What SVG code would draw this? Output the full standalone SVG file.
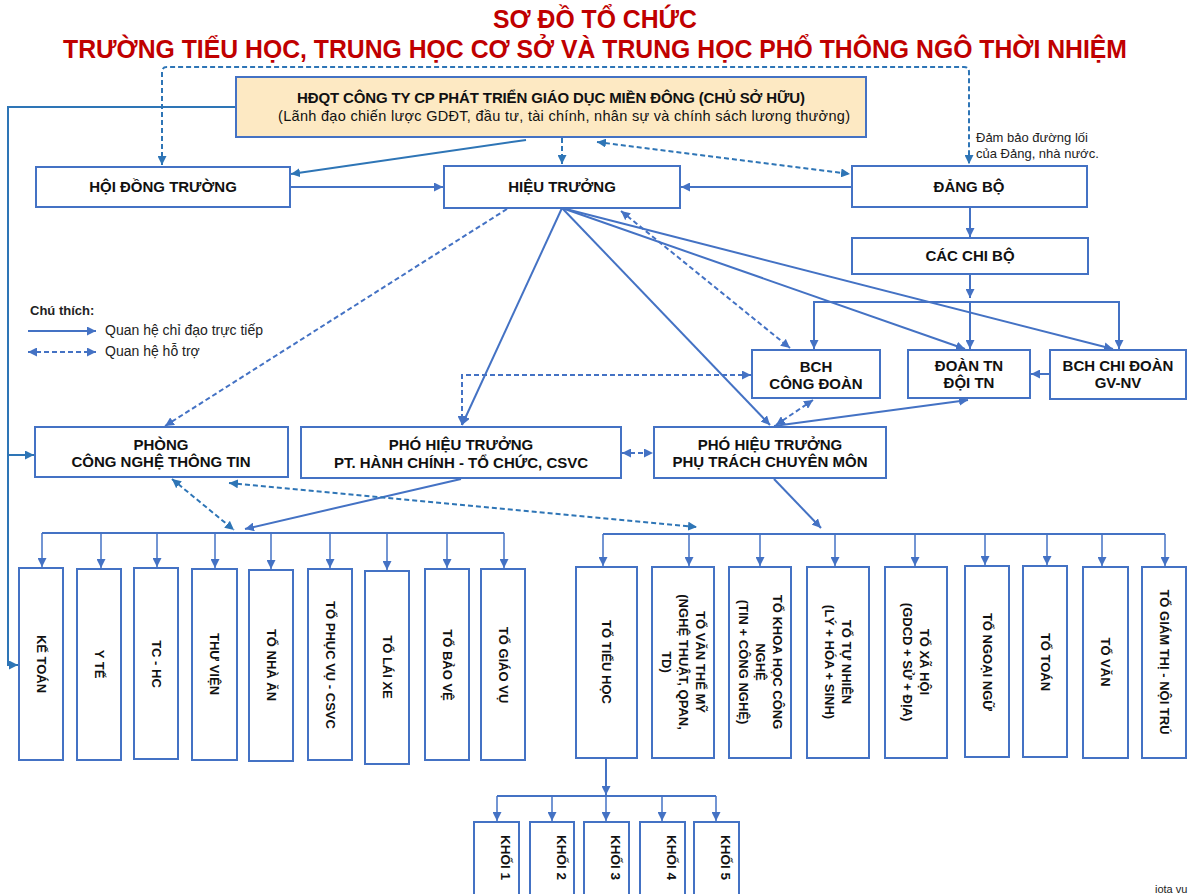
<svg xmlns="http://www.w3.org/2000/svg" width="1188" height="894" viewBox="0 0 1188 894">
<style>
.box{fill:#fff;stroke:#4472c4;stroke-width:2}
.top{fill:#fde9c3;stroke:#4472c4;stroke-width:2}
.t{font-family:"Liberation Sans",Arial,sans-serif;font-size:15px;font-weight:bold;fill:#111;text-anchor:middle}
.tn{font-family:"Liberation Sans",Arial,sans-serif;font-size:14.5px;font-weight:normal;fill:#111;text-anchor:middle}
.vt{font-family:"Liberation Sans",Arial,sans-serif;font-size:13px;font-weight:bold;fill:#111;text-anchor:middle}
.kt{font-family:"Liberation Sans",Arial,sans-serif;font-size:13.5px;font-weight:bold;fill:#111;text-anchor:start}
.title{font-family:"Liberation Sans",Arial,sans-serif;font-size:26px;font-weight:bold;fill:#c00000;text-anchor:start}
.n{font-family:"Liberation Sans",Arial,sans-serif;fill:#222}
.c1{fill:none;stroke:#4472c4;stroke-width:2}
.c1t{fill:none;stroke:#4472c4;stroke-width:1.5}
.c2{fill:none;stroke:#2e75b6;stroke-width:2}
.d1{fill:none;stroke:#4472c4;stroke-width:2;stroke-dasharray:5 3}
.d2{fill:none;stroke:#2e75b6;stroke-width:2;stroke-dasharray:5 3}
</style>
<defs>
<marker id="a1" viewBox="0 0 10 10" refX="10" refY="5" markerWidth="9" markerHeight="9" markerUnits="userSpaceOnUse" orient="auto-start-reverse"><path d="M0,0 L10,5 L0,10 z" fill="#4472c4"/></marker>
<marker id="a2" viewBox="0 0 10 10" refX="10" refY="5" markerWidth="9" markerHeight="9" markerUnits="userSpaceOnUse" orient="auto-start-reverse"><path d="M0,0 L10,5 L0,10 z" fill="#2e75b6"/></marker>
</defs>

<g id="title">
<text class="title" x="493" y="28" font-size="25" textLength="204" lengthAdjust="spacingAndGlyphs">SƠ ĐỒ TỔ CHỨC</text>
<text class="title" x="63" y="58" textLength="1064" lengthAdjust="spacingAndGlyphs">TRƯỜNG TIỂU HỌC, TRUNG HỌC CƠ SỞ VÀ TRUNG HỌC PHỔ THÔNG NGÔ THỜI NHIỆM</text>
</g>

<g id="connectors">
<path class="d2" d="M162,165 V72 Q162,67 167,67 H964 Q969,67 969,72 V164" marker-start="url(#a2)" marker-end="url(#a2)"/>
<path class="c2" d="M236,107 H8 V665 H18" marker-end="url(#a2)"/>
<path class="c2" d="M8,455 H34" marker-end="url(#a2)"/>
<path class="c2" d="M526,140 L291,174" marker-end="url(#a2)"/>
<path class="d2" d="M562,138 V164" marker-end="url(#a2)"/>
<path class="d2" d="M597,142 L850,174" marker-start="url(#a2)" marker-end="url(#a2)"/>
<path class="c1" d="M290,187 H443" marker-end="url(#a1)"/>
<path class="c1" d="M852,187 H681" marker-end="url(#a1)"/>
<path class="c1" d="M970,207 V237" marker-end="url(#a1)"/>
<path class="c1" d="M970,274 V298" marker-end="url(#a1)"/>
<path class="c1" d="M814,349 V302 H1119 V349" marker-start="url(#a1)" marker-end="url(#a1)"/>
<path class="c1" d="M970,302 V349" marker-end="url(#a1)"/>
<path class="c1" d="M562,208 L462,425" marker-end="url(#a1)"/>
<path class="c1" d="M562,208 L770,425" marker-end="url(#a1)"/>
<path class="c1" d="M562,208 L965,349" marker-end="url(#a1)"/>
<path class="c1" d="M562,208 L1113,349" marker-end="url(#a1)"/>
<path class="d1" d="M507,209 L165,426" marker-end="url(#a1)"/>
<path class="d1" d="M621,211 L790,348" marker-start="url(#a1)" marker-end="url(#a1)"/>
<path class="d1" d="M751,375 H462 V425" marker-start="url(#a1)" marker-end="url(#a1)"/>
<path class="d1" d="M776,425 L813,400" marker-start="url(#a1)" marker-end="url(#a1)"/>
<path class="c1" d="M774,426 L968,400" marker-end="url(#a1)"/>
<path class="c1" d="M1050,374 H1031" marker-end="url(#a1)"/>
<path class="d1" d="M622,453 H653" marker-start="url(#a1)" marker-end="url(#a1)"/>
<path class="c1" d="M461,479 L245,529" marker-end="url(#a1)"/>
<path class="d2" d="M172,479 L234,530" marker-start="url(#a2)" marker-end="url(#a2)"/>
<path class="d2" d="M229,483 L697,527" marker-start="url(#a2)" marker-end="url(#a2)"/>
<path class="c1" d="M774,479 L821,528" marker-end="url(#a1)"/>
<path class="c1" d="M42,533 H504"/>
<path class="c1t" d="M42,533 V567" marker-end="url(#a1)"/>
<path class="c1t" d="M101,533 V568" marker-end="url(#a1)"/>
<path class="c1t" d="M157,533 V567" marker-end="url(#a1)"/>
<path class="c1t" d="M215,533 V568" marker-end="url(#a1)"/>
<path class="c1t" d="M271,533 V569" marker-end="url(#a1)"/>
<path class="c1t" d="M330,533 V568" marker-end="url(#a1)"/>
<path class="c1t" d="M387,533 V570" marker-end="url(#a1)"/>
<path class="c1t" d="M447,533 V568" marker-end="url(#a1)"/>
<path class="c1t" d="M504,533 V568" marker-end="url(#a1)"/>
<path class="c1" d="M603,534 H1165"/>
<path class="c1t" d="M603,534 V566" marker-end="url(#a1)"/>
<path class="c1t" d="M689,534 V566" marker-end="url(#a1)"/>
<path class="c1t" d="M760,534 V566" marker-end="url(#a1)"/>
<path class="c1t" d="M835,534 V566" marker-end="url(#a1)"/>
<path class="c1t" d="M915,534 V566" marker-end="url(#a1)"/>
<path class="c1t" d="M985,534 V565" marker-end="url(#a1)"/>
<path class="c1t" d="M1047,534 V565" marker-end="url(#a1)"/>
<path class="c1t" d="M1102,534 V566" marker-end="url(#a1)"/>
<path class="c1t" d="M1165,534 V566" marker-end="url(#a1)"/>
<path class="c1" d="M606,759 V795" marker-end="url(#a1)"/>
<path class="c1" d="M497,796 H716"/>
<path class="c1t" d="M497,796 V821" marker-end="url(#a1)"/>
<path class="c1t" d="M552,796 V821" marker-end="url(#a1)"/>
<path class="c1t" d="M606,796 V821" marker-end="url(#a1)"/>
<path class="c1t" d="M662,796 V821" marker-end="url(#a1)"/>
<path class="c1t" d="M716,796 V821" marker-end="url(#a1)"/>
</g>

<g id="legend">
<text class="n" x="30" y="315" font-size="13" font-weight="bold">Chú thích:</text>
<path class="c1" d="M28,331 H96" marker-end="url(#a1)"/>
<text class="n" x="105" y="335" font-size="14">Quan hệ chỉ đạo trực tiếp</text>
<path class="d1" d="M28,352 H96" marker-start="url(#a1)" marker-end="url(#a1)"/>
<text class="n" x="105" y="356" font-size="14">Quan hệ hỗ trợ</text>
</g>

<g id="note">
<text class="n" x="976" y="142" font-size="13">Đảm bảo đường lối</text>
<text class="n" x="976" y="158" font-size="13">của Đảng, nhà nước.</text>
</g>

<g id="hdqt">
<rect class="top" x="236" y="77" width="630" height="60"/>
<text class="t" x="551" y="103" font-size="13.5" textLength="508">HĐQT CÔNG TY CP PHÁT TRIỂN GIÁO DỤC MIỀN ĐÔNG (CHỦ SỞ HỮU)</text>
<text class="tn" x="564" y="121" textLength="572">(Lãnh đạo chiến lược GDĐT, đầu tư, tài chính, nhân sự và chính sách lương thưởng)</text>
</g>
<g id="hoi-dong-truong"><rect class="box" x="36" y="167" width="254" height="40"/><text class="t" x="163" y="192">HỘI ĐỒNG TRƯỜNG</text></g>
<g id="hieu-truong"><rect class="box" x="444" y="166" width="236" height="42"/><text class="t" x="562" y="192">HIỆU TRƯỞNG</text></g>
<g id="dang-bo"><rect class="box" x="852" y="166" width="235" height="41"/><text class="t" x="969" y="192">ĐẢNG BỘ</text></g>
<g id="cac-chi-bo"><rect class="box" x="852" y="238" width="236" height="36"/><text class="t" x="970" y="261">CÁC CHI BỘ</text></g>
<g id="bch-cong-doan"><rect class="box" x="752" y="350" width="128" height="48"/><text class="t"><tspan x="816" y="372">BCH</tspan><tspan x="816" y="389">CÔNG ĐOÀN</tspan></text></g>
<g id="doan-tn"><rect class="box" x="908" y="350" width="122" height="48"/><text class="t"><tspan x="969" y="371">ĐOÀN TN</tspan><tspan x="969" y="388">ĐỘI TN</tspan></text></g>
<g id="bch-chi-doan"><rect class="box" x="1050" y="350" width="136" height="49"/><text class="t"><tspan x="1118" y="371">BCH CHI ĐOÀN</tspan><tspan x="1118" y="388">GV-NV</tspan></text></g>
<g id="phong-cntt"><rect class="box" x="35" y="427" width="253" height="50"/><text class="t"><tspan x="161" y="450">PHÒNG</tspan><tspan x="161" y="467">CÔNG NGHỆ THÔNG TIN</tspan></text></g>
<g id="pht-hanh-chinh"><rect class="box" x="301" y="427" width="320" height="51"/><text class="t"><tspan x="461" y="450">PHÓ HIỆU TRƯỞNG</tspan><tspan x="461" y="468">PT. HÀNH CHÍNH - TỔ CHỨC, CSVC</tspan></text></g>
<g id="pht-chuyen-mon"><rect class="box" x="654" y="427" width="232" height="51"/><text class="t"><tspan x="770" y="450">PHÓ HIỆU TRƯỞNG</tspan><tspan x="770" y="467">PHỤ TRÁCH CHUYÊN MÔN</tspan></text></g>

<g id="ke-toan"><rect class="box" x="19" y="568" width="44" height="192"/><text class="vt" transform="translate(41,664) rotate(90)"><tspan x="0" y="4.5">KẾ TOÁN</tspan></text></g>
<g id="y-te"><rect class="box" x="77" y="569" width="44" height="191"/><text class="vt" transform="translate(99,664) rotate(90)"><tspan x="0" y="4.5">Y TẾ</tspan></text></g>
<g id="tc-hc"><rect class="box" x="134" y="568" width="44" height="191"/><text class="vt" transform="translate(156,664) rotate(90)"><tspan x="0" y="4.5">TC - HC</tspan></text></g>
<g id="thu-vien"><rect class="box" x="192" y="569" width="45" height="191"/><text class="vt" transform="translate(214,664) rotate(90)"><tspan x="0" y="4.5">THƯ VIỆN</tspan></text></g>
<g id="to-nha-an"><rect class="box" x="249" y="570" width="44" height="191"/><text class="vt" transform="translate(271,665) rotate(90)"><tspan x="0" y="4.5">TỔ NHÀ ĂN</tspan></text></g>
<g id="to-phuc-vu"><rect class="box" x="308" y="569" width="44" height="191"/><text class="vt" transform="translate(330,665) rotate(90)"><tspan x="0" y="4.5">TỔ PHỤC VỤ - CSVC</tspan></text></g>
<g id="to-lai-xe"><rect class="box" x="365" y="571" width="44" height="193"/><text class="vt" transform="translate(387,667) rotate(90)"><tspan x="0" y="4.5">TỔ LÁI XE</tspan></text></g>
<g id="to-bao-ve"><rect class="box" x="425" y="569" width="44" height="191"/><text class="vt" transform="translate(447,665) rotate(90)"><tspan x="0" y="4.5">TỔ BẢO VỆ</tspan></text></g>
<g id="to-giao-vu"><rect class="box" x="481" y="569" width="44" height="191"/><text class="vt" transform="translate(503,665) rotate(90)"><tspan x="0" y="4.5">TỔ GIÁO VỤ</tspan></text></g>

<g id="to-tieu-hoc"><rect class="box" x="576" y="567" width="61" height="191"/><text class="vt" transform="translate(606,662) rotate(90)"><tspan x="0" y="4.5">TỔ TIỂU HỌC</tspan></text></g>
<g id="to-van-the-my"><rect class="box" x="652" y="567" width="62" height="191"/><text class="vt" transform="translate(683,662) rotate(90)"><tspan x="0" y="-12.5">TỔ VĂN THỂ MỸ</tspan><tspan x="0" y="4.5">(NGHỆ THUẬT, QPAN,</tspan><tspan x="0" y="21.5">TD)</tspan></text></g>
<g id="to-khoa-hoc"><rect class="box" x="729" y="567" width="62" height="191"/><text class="vt" transform="translate(760,662) rotate(90)"><tspan x="0" y="-12.5">TỔ KHOA HỌC CÔNG</tspan><tspan x="0" y="4.5">NGHỆ</tspan><tspan x="0" y="21.5">(TIN + CÔNG NGHỆ)</tspan></text></g>
<g id="to-tu-nhien"><rect class="box" x="807" y="567" width="62" height="191"/><text class="vt" transform="translate(838,662) rotate(90)"><tspan x="0" y="-4">TỔ TỰ NHIÊN</tspan><tspan x="0" y="13">(LÝ + HÓA + SINH)</tspan></text></g>
<g id="to-xa-hoi"><rect class="box" x="885" y="567" width="62" height="191"/><text class="vt" transform="translate(916,662) rotate(90)"><tspan x="0" y="-4">TỔ XÃ HỘI</tspan><tspan x="0" y="13">(GDCD + SỬ + ĐỊA)</tspan></text></g>
<g id="to-ngoai-ngu"><rect class="box" x="965" y="566" width="44" height="191"/><text class="vt" transform="translate(987,662) rotate(90)"><tspan x="0" y="4.5">TỔ NGOẠI NGỮ</tspan></text></g>
<g id="to-toan"><rect class="box" x="1023" y="566" width="44" height="191"/><text class="vt" transform="translate(1045,662) rotate(90)"><tspan x="0" y="4.5">TỔ TOÁN</tspan></text></g>
<g id="to-van"><rect class="box" x="1083" y="567" width="45" height="191"/><text class="vt" transform="translate(1105,662) rotate(90)"><tspan x="0" y="4.5">TỔ VĂN</tspan></text></g>
<g id="to-giam-thi"><rect class="box" x="1142" y="567" width="44" height="191"/><text class="vt" transform="translate(1164,662) rotate(90)"><tspan x="0" y="4.5">TỔ GIÁM THỊ - NỘI TRÚ</tspan></text></g>

<g id="khoi-1"><rect class="box" x="474" y="822" width="45" height="80"/><text class="kt" transform="translate(496,835) rotate(90)"><tspan x="0" y="-5">KHỐI 1</tspan></text></g>
<g id="khoi-2"><rect class="box" x="530" y="822" width="44" height="80"/><text class="kt" transform="translate(552,835) rotate(90)"><tspan x="0" y="-5">KHỐI 2</tspan></text></g>
<g id="khoi-3"><rect class="box" x="584" y="822" width="45" height="80"/><text class="kt" transform="translate(606,835) rotate(90)"><tspan x="0" y="-5">KHỐI 3</tspan></text></g>
<g id="khoi-4"><rect class="box" x="640" y="822" width="45" height="80"/><text class="kt" transform="translate(662,835) rotate(90)"><tspan x="0" y="-5">KHỐI 4</tspan></text></g>
<g id="khoi-5"><rect class="box" x="694" y="822" width="45" height="80"/><text class="kt" transform="translate(716,835) rotate(90)"><tspan x="0" y="-5">KHỐI 5</tspan></text></g>

<text class="n" x="1155" y="893" font-size="11" fill="#333">iota vu</text>
</svg>
